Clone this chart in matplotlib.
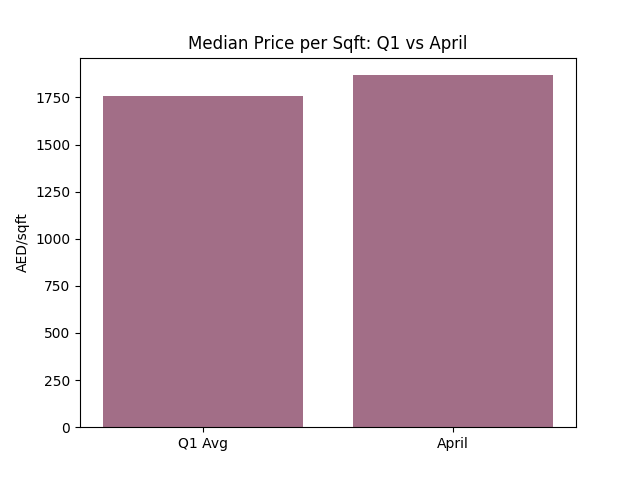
import matplotlib
matplotlib.use("Agg")
import matplotlib.pyplot as plt

categories = ["Q1 Avg", "April"]
values = [1758, 1868]

fig, ax = plt.subplots(figsize=(6.4, 4.8), dpi=100)
ax.bar(categories, values, color="#a26e87")
ax.set_ylabel("AED/sqft")
ax.set_title("Median Price per Sqft: Q1 vs April")
fig.savefig("out.png")
